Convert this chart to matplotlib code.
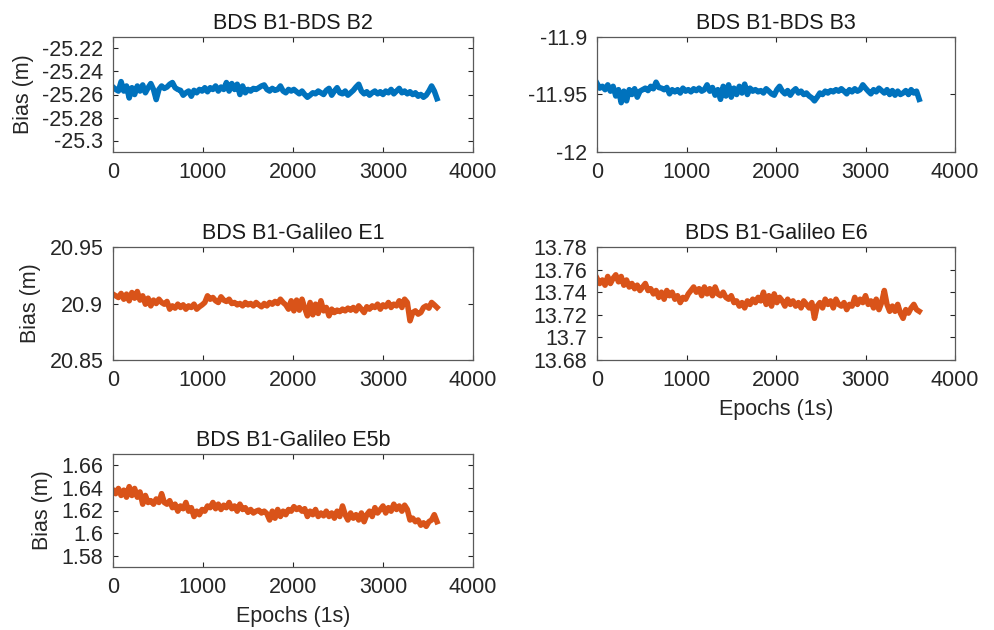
import numpy as np
import matplotlib
matplotlib.use("Agg")
import matplotlib.pyplot as plt
from matplotlib.ticker import FuncFormatter

plt.rcParams['font.family'] = ['Liberation Sans', 'DejaVu Sans']

# Epoch grid (every 30 s, 0..3600)
epochs = np.arange(0, 3601, 30)

titles = ["BDS B1-BDS B2", "BDS B1-BDS B3", "BDS B1-Galileo E1",
          "BDS B1-Galileo E6", "BDS B1-Galileo E5b"]

bias_b1_b2 = [
    -25.2535, -25.2556, -25.2570, -25.2488, -25.2570, -25.2526, -25.2630, -25.2541, -25.2600, -25.2526,
    -25.2570, -25.2517, -25.2585, -25.2541, -25.2505, -25.2556, -25.2644, -25.2556, -25.2526, -25.2547,
    -25.2535, -25.2511, -25.2496, -25.2541, -25.2556, -25.2564, -25.2606, -25.2585, -25.2570, -25.2615,
    -25.2564, -25.2585, -25.2556, -25.2570, -25.2541, -25.2576, -25.2541, -25.2556, -25.2526, -25.2570,
    -25.2535, -25.2556, -25.2496, -25.2570, -25.2505, -25.2556, -25.2511, -25.2600, -25.2526, -25.2585,
    -25.2556, -25.2570, -25.2547, -25.2556, -25.2541, -25.2526, -25.2517, -25.2556, -25.2570, -25.2547,
    -25.2564, -25.2556, -25.2526, -25.2570, -25.2585, -25.2556, -25.2570, -25.2556, -25.2576, -25.2594,
    -25.2570, -25.2600, -25.2624, -25.2606, -25.2585, -25.2594, -25.2570, -25.2585, -25.2600, -25.2564,
    -25.2547, -25.2606, -25.2570, -25.2541, -25.2585, -25.2594, -25.2570, -25.2606, -25.2585, -25.2564,
    -25.2535, -25.2511, -25.2570, -25.2594, -25.2576, -25.2606, -25.2585, -25.2570, -25.2594, -25.2576,
    -25.2600, -25.2570, -25.2585, -25.2556, -25.2594, -25.2570, -25.2547, -25.2585, -25.2570, -25.2594,
    -25.2576, -25.2600, -25.2585, -25.2615, -25.2600, -25.2624, -25.2606, -25.2570, -25.2526, -25.2570,
    -25.2636,
]

bias_b1_b3 = [
    -11.9403, -11.9445, -11.9429, -11.9458, -11.9416, -11.9471, -11.9429, -11.9513, -11.9458, -11.9571,
    -11.9471, -11.9555, -11.9458, -11.9500, -11.9450, -11.9523, -11.9471, -11.9458, -11.9445, -11.9466,
    -11.9429, -11.9450, -11.9393, -11.9439, -11.9445, -11.9458, -11.9439, -11.9494, -11.9458, -11.9477,
    -11.9458, -11.9487, -11.9445, -11.9471, -11.9458, -11.9477, -11.9450, -11.9466, -11.9445, -11.9471,
    -11.9458, -11.9416, -11.9471, -11.9439, -11.9506, -11.9458, -11.9542, -11.9429, -11.9513, -11.9416,
    -11.9523, -11.9445, -11.9500, -11.9429, -11.9487, -11.9410, -11.9500, -11.9445, -11.9471, -11.9458,
    -11.9477, -11.9466, -11.9487, -11.9450, -11.9471, -11.9494, -11.9506, -11.9458, -11.9429, -11.9471,
    -11.9494, -11.9466, -11.9506, -11.9471, -11.9450, -11.9487, -11.9471, -11.9500, -11.9487, -11.9513,
    -11.9529, -11.9555, -11.9523, -11.9487, -11.9500, -11.9471, -11.9487, -11.9466, -11.9477, -11.9458,
    -11.9471, -11.9450, -11.9471, -11.9494, -11.9458, -11.9477, -11.9450, -11.9471, -11.9458, -11.9416,
    -11.9445, -11.9471, -11.9494, -11.9458, -11.9477, -11.9445, -11.9466, -11.9487, -11.9458, -11.9500,
    -11.9466, -11.9506, -11.9471, -11.9500, -11.9487, -11.9466, -11.9500, -11.9458, -11.9487, -11.9471,
    -11.9542,
]

bias_b1_e1 = [
    20.9083, 20.9068, 20.9053, 20.9089, 20.9038, 20.9083, 20.9024, 20.9097, 20.9047, 20.9106,
    20.9030, 20.9068, 20.8994, 20.9047, 20.8979, 20.9030, 20.9000, 20.9038, 20.9009, 20.8994,
    20.9018, 20.8950, 20.8979, 20.8959, 20.8994, 20.8965, 20.8988, 20.8950, 20.8979, 20.8965,
    20.8994, 20.8950, 20.8971, 20.8988, 20.9009, 20.9068, 20.9038, 20.9053, 20.9024, 20.9009,
    20.9059, 20.9030, 20.9018, 20.9038, 20.9000, 20.9009, 20.8988, 20.9000, 20.8979, 20.9009,
    20.8988, 20.9000, 20.8979, 20.9009, 20.8988, 20.8971, 20.9000, 20.8979, 20.9009, 20.8994,
    20.9018, 20.9000, 20.9038, 20.9009, 20.8988, 20.8950, 20.9024, 20.8935, 20.9030, 20.8941,
    20.9038, 20.8959, 20.8891, 20.9009, 20.8900, 20.8994, 20.8912, 20.9024, 20.8935, 20.8965,
    20.8891, 20.8950, 20.8920, 20.8941, 20.8929, 20.8950, 20.8935, 20.8959, 20.8941, 20.8965,
    20.8935, 20.8979, 20.8950, 20.8920, 20.8971, 20.8950, 20.8979, 20.8965, 20.8994, 20.8950,
    20.8988, 20.8971, 20.9009, 20.8965, 20.8994, 20.8979, 20.9024, 20.8965, 20.9038, 20.9009,
    20.8847, 20.8920, 20.8935, 20.8906, 20.8920, 20.8965, 20.8979, 20.8959, 20.9009, 20.8988,
    20.8965,
]

bias_b1_e6 = [
    13.7523, 13.7477, 13.7508, 13.7462, 13.7539, 13.7477, 13.7523, 13.7554, 13.7492, 13.7539,
    13.7462, 13.7508, 13.7446, 13.7477, 13.7431, 13.7462, 13.7415, 13.7446, 13.7477, 13.7415,
    13.7431, 13.7385, 13.7415, 13.7354, 13.7400, 13.7338, 13.7415, 13.7369, 13.7400, 13.7338,
    13.7369, 13.7308, 13.7354, 13.7338, 13.7385, 13.7415, 13.7446, 13.7400, 13.7431, 13.7369,
    13.7446, 13.7385, 13.7431, 13.7369, 13.7446, 13.7385, 13.7369, 13.7400, 13.7354, 13.7338,
    13.7369, 13.7308, 13.7323, 13.7277, 13.7308, 13.7261, 13.7323, 13.7292, 13.7338, 13.7308,
    13.7354, 13.7323, 13.7400, 13.7292, 13.7369, 13.7277, 13.7385, 13.7308, 13.7354, 13.7323,
    13.7277, 13.7338, 13.7292, 13.7323, 13.7277, 13.7308, 13.7261, 13.7323, 13.7292, 13.7261,
    13.7308, 13.7169, 13.7277, 13.7308, 13.7261, 13.7338, 13.7292, 13.7323, 13.7261, 13.7338,
    13.7292, 13.7277, 13.7308, 13.7246, 13.7292, 13.7277, 13.7354, 13.7292, 13.7338, 13.7308,
    13.7369, 13.7292, 13.7323, 13.7261, 13.7338, 13.7246, 13.7308, 13.7415, 13.7292, 13.7231,
    13.7277, 13.7231, 13.7292, 13.7215, 13.7169, 13.7246, 13.7215, 13.7261, 13.7292, 13.7246,
    13.7231,
]

bias_b1_e5b = [
    1.6380, 1.6349, 1.6395, 1.6333, 1.6380, 1.6318, 1.6411, 1.6333, 1.6395, 1.6318,
    1.6364, 1.6256, 1.6333, 1.6271, 1.6287, 1.6256, 1.6302, 1.6271, 1.6349, 1.6271,
    1.6256, 1.6287, 1.6225, 1.6256, 1.6194, 1.6240, 1.6216, 1.6271, 1.6194, 1.6225,
    1.6147, 1.6194, 1.6163, 1.6209, 1.6194, 1.6240, 1.6225, 1.6271, 1.6216, 1.6256,
    1.6209, 1.6247, 1.6225, 1.6271, 1.6216, 1.6240, 1.6194, 1.6256, 1.6209, 1.6225,
    1.6184, 1.6209, 1.6178, 1.6194, 1.6203, 1.6178, 1.6194, 1.6172, 1.6116, 1.6194,
    1.6132, 1.6209, 1.6147, 1.6194, 1.6163, 1.6209, 1.6194, 1.6234, 1.6209, 1.6225,
    1.6194, 1.6216, 1.6147, 1.6194, 1.6163, 1.6209, 1.6147, 1.6178, 1.6153, 1.6194,
    1.6147, 1.6178, 1.6132, 1.6194, 1.6147, 1.6240, 1.6163, 1.6116, 1.6178, 1.6132,
    1.6163, 1.6116, 1.6178, 1.6101, 1.6163, 1.6194, 1.6147, 1.6225, 1.6178, 1.6209,
    1.6240, 1.6178, 1.6225, 1.6194, 1.6256, 1.6209, 1.6240, 1.6194, 1.6247, 1.6209,
    1.6116, 1.6132, 1.6101, 1.6116, 1.6070, 1.6091, 1.6060, 1.6101, 1.6116, 1.6163,
    1.6101,
]

series = [bias_b1_b2, bias_b1_b3, bias_b1_e1, bias_b1_e6, bias_b1_e5b]
colors = ["#0072BD", "#0072BD", "#D95319", "#D95319", "#D95319"]
ylims = [(-25.31, -25.21), (-12.0, -11.9), (20.85, 20.95), (13.68, 13.78), (1.57, 1.67)]
yticks = [
    [-25.3, -25.28, -25.26, -25.24, -25.22],
    [-12.0, -11.95, -11.9],
    [20.85, 20.9, 20.95],
    [13.68, 13.7, 13.72, 13.74, 13.76, 13.78],
    [1.58, 1.6, 1.62, 1.64, 1.66],
]
xticks = [0, 1000, 2000, 3000, 4000]

W, H = 994, 630
fig = plt.figure(figsize=(W / 100, H / 100), dpi=100)

def rect(left, right, top, bottom):
    return [left / W, 1 - bottom / H, (right - left) / W, (bottom - top) / H]

rects = [
    rect(113, 473, 37, 152),
    rect(597, 955, 37, 152),
    rect(113, 473, 247, 360),
    rect(597, 955, 247, 360),
    rect(113, 473, 454, 567),
]

fmt = FuncFormatter(lambda v, p: ('%g' % round(v, 4)))
txt_col = '#262626'
fs = 15.5

for i in range(5):
    ax = fig.add_axes(rects[i])
    ax.plot(epochs, series[i], color=colors[i], lw=4.0, solid_joinstyle='round')
    ax.set_xlim(0, 4000)
    ax.set_ylim(*ylims[i])
    ax.set_xticks(xticks)
    ax.set_yticks(yticks[i])
    ax.yaxis.set_major_formatter(fmt)
    ax.tick_params(direction='in', length=3.5, width=0.8, top=True, right=True,
                   labelsize=fs, colors=txt_col, pad=7)
    for s in ax.spines.values():
        s.set_color('#5a5a5a')
        s.set_linewidth(0.9)
    ax.set_title(titles[i], fontsize=fs, color='#1a1a1a', pad=6)
    if i in (0, 2, 4):
        ax.set_ylabel('Bias (m)', fontsize=fs, color=txt_col, labelpad=6)
    if i in (3, 4):
        ax.set_xlabel('Epochs (1s)', fontsize=fs, color=txt_col, labelpad=6)

fig.savefig('out.png', dpi=100, facecolor='white')
